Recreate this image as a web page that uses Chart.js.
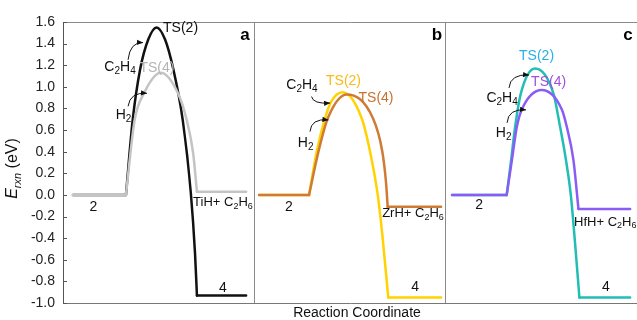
<!DOCTYPE html>
<html>
<head>
<meta charset="utf-8">
<script src="https://cdn.jsdelivr.net/npm/chart.js@4.4.1/dist/chart.umd.min.js"></script>
<style>
  html, body { margin: 0; padding: 0; background: #fff; }
  #wrap { position: relative; width: 637px; height: 320px; }
</style>
</head>
<body>
<div id="wrap"><canvas id="chart" width="637" height="320"></canvas></div>
<script>
// ─── DATA ──────────────────────────────────────────────
// reaction coordinate: each panel spans 10 units (a: 0-10, b: 10-20, c: 20-30)
const E_MIN = -1.0, E_MAX = 1.6, E_STEP = 0.2;
const panelLetters = ['a', 'b', 'c'];
const productLabels = ['TiH+ C_2H_6', 'ZrH+ C_2H_6', 'HfH+ C_2H_6'];
const plateauStart = [0.52, 10.25, 20.33];
const plateauEnd = [9.57, 19.76, 29.64];

// panel a — Ti
const tiTs2X = [3.29, 3.64, 4.03, 4.46, 4.89, 5.33, 5.77, 6.26, 6.68, 6.90, 7.00];
const tiTs2E = [0.00, 0.69, 1.16, 1.44, 1.55, 1.44, 1.16, 0.69, 0.02, -0.54, -0.93];
const tiTs4X = [3.29, 3.74, 4.23, 5.11, 6.01, 6.47, 6.80, 7.00];
const tiTs4E = [0.00, 0.69, 0.94, 1.13, 0.94, 0.69, 0.39, 0.03];

// panel b — Zr
const zrTs2X = [12.86, 13.26, 13.70, 14.01, 14.61, 15.61, 16.05, 16.45, 16.69, 17.00];
const zrTs2E = [0.00, 0.40, 0.71, 0.86, 0.95, 0.71, 0.40, 0.00, -0.37, -0.95];
const zrTs4X = [12.86, 13.35, 13.84, 14.83, 16.20, 16.69, 16.88, 16.97];
const zrTs4E = [0.00, 0.40, 0.71, 0.93, 0.71, 0.40, 0.12, -0.11];

// panel c — Hf
const hfTs2X = [23.19, 23.42, 23.63, 23.93, 24.67, 25.63, 25.98, 26.29, 26.54, 26.76, 26.99];
const hfTs2E = [0.00, 0.32, 0.63, 0.94, 1.17, 0.94, 0.63, 0.32, 0.00, -0.44, -0.95];
const hfTs4X = [23.19, 23.46, 23.72, 23.98, 25.02, 26.07, 26.33, 26.68, 26.94];
const hfTs4E = [0.00, 0.32, 0.63, 0.79, 0.97, 0.79, 0.63, 0.32, -0.13];

// ─── STYLE ─────────────────────────────────────────────
const FONT = '"Liberation Sans", Arial, sans-serif';

const curves = [
  { x: tiTs4X, e: tiTs4E, panel: 0, color: '#c4c4c4', order: 0 },
  { x: tiTs2X, e: tiTs2E, panel: 0, color: '#111111', order: 1 },
  { x: zrTs4X, e: zrTs4E, panel: 1, color: '#cf7b35', order: 0 },
  { x: zrTs2X, e: zrTs2E, panel: 1, color: '#ffd200', order: 1 },
  { x: hfTs4X, e: hfTs4E, panel: 2, color: '#8a5cf5', order: 0 },
  { x: hfTs2X, e: hfTs2E, panel: 2, color: '#22bdb5', order: 1 }
];

// labels placed in data coordinates
const notes = [
  { t: 'TS(2)', x: 5.23, y: 1.54, c: '#111', align: 'left' },
  { t: 'C_2H_4', x: 2.98, y: 1.185, c: '#111' },
  { t: 'TS(4)', x: 4.91, y: 1.175, c: '#b4b4b4' },
  { t: 'H_2', x: 3.16, y: 0.74, c: '#111' },
  { t: '2', x: 1.59, y: -0.11, c: '#111' },
  { t: '4', x: 8.36, y: -0.86, c: '#111' },

  { t: 'C_2H_4', x: 12.49, y: 1.02, c: '#111' },
  { t: 'TS(2)', x: 14.66, y: 1.05, c: '#fdb913' },
  { t: 'TS(4)', x: 16.36, y: 0.90, c: '#c8702e' },
  { t: 'H_2', x: 12.68, y: 0.48, c: '#111' },
  { t: '2', x: 11.81, y: -0.11, c: '#111' },
  { t: '4', x: 18.40, y: -0.85, c: '#111' },

  { t: 'TS(2)', x: 24.75, y: 1.28, c: '#2aaee6' },
  { t: 'TS(4)', x: 25.38, y: 1.04, c: '#a04fe0' },
  { t: 'C_2H_4', x: 22.95, y: 0.90, c: '#111' },
  { t: 'H_2', x: 23.03, y: 0.57, c: '#111' },
  { t: '2', x: 21.75, y: -0.09, c: '#111' },
  { t: '4', x: 28.38, y: -0.85, c: '#111' }
];
const productPos = [[6.80, -0.07], [16.68, -0.17], [26.71, -0.25]];
const letterPos = [[9.51, 1.48], [19.55, 1.48], [29.53, 1.48]];

const arrows = [
  { from: [3.40, 1.25], ctrl: [3.50, 1.415], to: [4.18, 1.41] },
  { from: [3.40, 0.82], ctrl: [3.50, 0.953], to: [4.39, 0.94] },
  { from: [12.99, 0.91], ctrl: [13.07, 0.84], to: [13.96, 0.85] },
  { from: [12.91, 0.586], ctrl: [12.96, 0.71], to: [13.87, 0.694] },
  { from: [23.31, 0.99], ctrl: [23.37, 1.12], to: [24.36, 1.11] },
  { from: [23.21, 0.667], ctrl: [23.26, 0.80], to: [24.20, 0.787] }
];

// ─── HELPERS ───────────────────────────────────────────
// '_' makes the next character a subscript; consecutive chars are drawn as runs
function toRuns(str) {
  const runs = [];
  for (let i = 0; i < str.length; i++) {
    const sub = str[i] === '_';
    const ch = sub ? str[++i] : str[i];
    const last = runs[runs.length - 1];
    if (last && last.sub === sub) last.s += ch;
    else runs.push({ s: ch, sub });
  }
  return runs;
}

function drawRich(ctx, runs, x, y, size, color, align, style = '') {
  const subSize = Math.round(size * 0.7);
  let w = 0;
  runs.forEach(r => {
    ctx.font = `${r.style ?? style} ${r.sub ? subSize : size}px ${FONT}`;
    r.w = ctx.measureText(r.s).width;
    w += r.w;
  });
  let cx = align === 'left' ? x : x - w / 2;
  ctx.fillStyle = color;
  ctx.textAlign = 'left';
  ctx.textBaseline = 'middle';
  runs.forEach(r => {
    ctx.font = `${r.style ?? style} ${r.sub ? subSize : size}px ${FONT}`;
    ctx.fillText(r.s, cx, r.sub ? y + size * 0.3 : y);
    cx += r.w;
  });
}

// ─── DATASETS ──────────────────────────────────────────
const datasets = [];
curves.forEach(cv => {
  const n = cv.x.length;
  datasets.push({
    data: cv.x.map((x, i) => ({ x, y: cv.e[i] })),
    borderColor: cv.color,
    borderWidth: 2.5,
    pointRadius: 0,
    cubicInterpolationMode: 'monotone',
    borderCapStyle: 'round',
    order: cv.order
  });
  datasets.push({
    data: [
      { x: plateauStart[cv.panel], y: cv.e[0] },
      { x: cv.x[0], y: cv.e[0] },
      { x: (cv.x[0] + cv.x[n - 1]) / 2, y: null },
      { x: cv.x[n - 1], y: cv.e[n - 1] },
      { x: plateauEnd[cv.panel], y: cv.e[n - 1] }
    ],
    borderColor: cv.color,
    borderWidth: 2.5,
    pointRadius: 0,
    tension: 0,
    spanGaps: false,
    borderCapStyle: 'round',
    order: cv.order
  });
});

// ─── DECORATIONS ───────────────────────────────────────
const decor = {
  id: 'decor',
  afterDraw(chart) {
    const { ctx, chartArea: ca, scales: { x: xs, y: ys } } = chart;
    const px = v => xs.getPixelForValue(v);
    const py = v => ys.getPixelForValue(v);
    ctx.save();

    // inward y ticks
    ctx.strokeStyle = '#555';
    ctx.lineWidth = 1;
    ys.ticks.forEach(t => {
      const yy = Math.round(py(t.value)) + 0.5;
      ctx.beginPath(); ctx.moveTo(ca.left, yy); ctx.lineTo(ca.left + 4, yy); ctx.stroke();
    });

    notes.forEach(n => drawRich(ctx, toRuns(n.t), px(n.x), py(n.y), 14, n.c, n.align || 'center'));
    productPos.forEach((p, i) => drawRich(ctx, toRuns(productLabels[i]), px(p[0]), py(p[1]), 13, '#111', 'left'));
    letterPos.forEach((p, i) => drawRich(ctx, [{ s: panelLetters[i], sub: false }], px(p[0]), py(p[1]), 17, '#000', 'center', 'bold'));

    // curved arrows
    ctx.strokeStyle = '#111';
    ctx.fillStyle = '#111';
    ctx.lineWidth = 1;
    arrows.forEach(a => {
      const x0 = px(a.from[0]), y0 = py(a.from[1]);
      const cx = px(a.ctrl[0]), cy = py(a.ctrl[1]);
      const x1 = px(a.to[0]), y1 = py(a.to[1]);
      ctx.beginPath(); ctx.moveTo(x0, y0); ctx.quadraticCurveTo(cx, cy, x1, y1); ctx.stroke();
      const ang = Math.atan2(y1 - cy, x1 - cx);
      const L = 6, W = 2.6;
      ctx.beginPath();
      ctx.moveTo(x1, y1);
      ctx.lineTo(x1 - L * Math.cos(ang) + W * Math.sin(ang), y1 - L * Math.sin(ang) - W * Math.cos(ang));
      ctx.lineTo(x1 - L * Math.cos(ang) - W * Math.sin(ang), y1 - L * Math.sin(ang) + W * Math.cos(ang));
      ctx.closePath(); ctx.fill();
    });

    // axis titles
    drawRich(ctx, [{ s: 'Reaction Coordinate', sub: false }], (ca.left + ca.right) / 2 + 7, ca.bottom + 10, 14, '#111', 'center');
    ctx.translate(13, (ca.top + ca.bottom) / 2 + 6);
    ctx.rotate(-Math.PI / 2);
    drawRich(ctx, [
      { s: 'E', sub: false, style: 'italic' },
      { s: 'rxn', sub: true, style: 'italic' },
      { s: ' (eV)', sub: false, style: '' }
    ], 0, 0, 16, '#111', 'center');
    ctx.restore();
  }
};

// ─── CHART ─────────────────────────────────────────────
new Chart(document.getElementById('chart'), {
  type: 'line',
  data: { datasets },
  options: {
    responsive: false,
    animation: false,
    devicePixelRatio: 1,
    layout: { padding: { top: 22, left: 0, right: 0, bottom: 0 } },
    plugins: { legend: { display: false }, tooltip: { enabled: false } },
    scales: {
      x: {
        type: 'linear',
        min: 0,
        max: 30,
        ticks: { display: false, stepSize: 10 },
        grid: {
          drawTicks: false,
          color: c => (c.tick && (c.tick.value === 10 || c.tick.value === 20)) ? '#8a8a8a' : 'transparent'
        },
        border: { color: '#777' },
        afterFit: s => { s.height = 17; }
      },
      y: {
        min: E_MIN,
        max: E_MAX,
        ticks: {
          stepSize: E_STEP,
          padding: 8,
          color: '#222',
          font: { size: 14, family: FONT },
          callback: v => v.toFixed(1)
        },
        grid: {
          drawTicks: false,
          color: c => (c.tick && Math.abs(c.tick.value - E_MAX) < 1e-6) ? '#8a8a8a' : 'transparent'
        },
        border: { color: '#555' },
        afterFit: s => { s.width = 63; }
      }
    }
  },
  plugins: [decor]
});
</script>
</body>
</html>
